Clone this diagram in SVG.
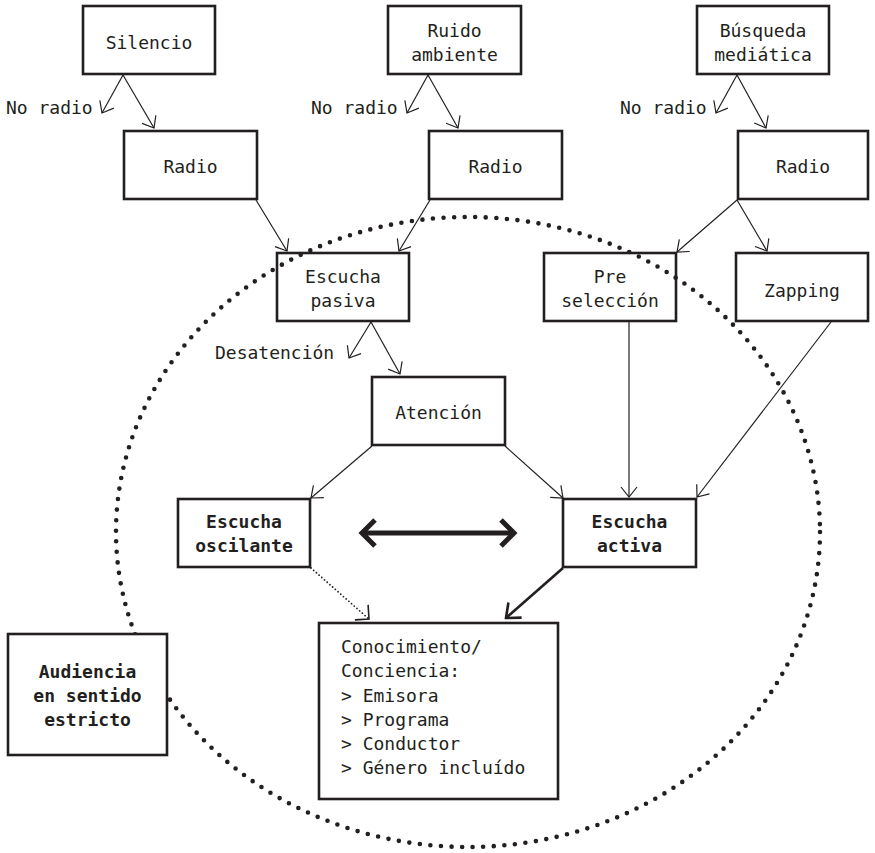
<svg xmlns="http://www.w3.org/2000/svg" width="875" height="853" viewBox="0 0 875 853">
<style>
  .box { fill: #ffffff; stroke: #231f20; stroke-width: 2.6; }
  .t { font-family: "DejaVu Sans Mono", "Liberation Mono", monospace; font-size: 18px; fill: #231f20; }
  .c { text-anchor: middle; }
  .b { font-weight: bold; }
  .ln { fill: none; stroke: #231f20; stroke-width: 1.2; }
  .thick { fill: none; stroke: #231f20; stroke-width: 2.6; }
  .dots { fill: none; stroke: #231f20; stroke-width: 1.8; stroke-linecap: round; stroke-dasharray: 0 3.6; }
  .ring { fill: none; stroke: #231f20; stroke-width: 4.6; stroke-linecap: round; stroke-dasharray: 0 10.6; }
</style>
<defs>
  <marker id="open" markerUnits="userSpaceOnUse" markerWidth="30" markerHeight="30" viewBox="-15 -15 30 30" refX="0" refY="0" orient="auto" overflow="visible">
    <path d="M-10,-8 L0,0 L-10,8" fill="none" stroke="#231f20" stroke-width="1.2"/>
  </marker>
  <marker id="wide" markerUnits="userSpaceOnUse" markerWidth="30" markerHeight="30" viewBox="-15 -15 30 30" refX="0" refY="0" orient="auto" overflow="visible">
    <path d="M-10,-10 L0,0 L-10,10" fill="none" stroke="#231f20" stroke-width="1.6"/>
  </marker>
  <marker id="heavy" markerUnits="userSpaceOnUse" markerWidth="40" markerHeight="40" viewBox="-20 -20 40 40" refX="0" refY="0" orient="auto" overflow="visible">
    <path d="M-12,-10 L0,0 L-12,10" fill="none" stroke="#231f20" stroke-width="2.6"/>
  </marker>
  <marker id="chev" markerUnits="userSpaceOnUse" markerWidth="50" markerHeight="50" viewBox="-25 -25 50 50" refX="0" refY="0" orient="auto-start-reverse" overflow="visible">
    <path d="M-13,-13 L0,0 L-13,13" fill="none" stroke="#231f20" stroke-width="5"/>
  </marker>
</defs>

<rect width="875" height="853" fill="#ffffff"/>

<g id="n-silencio"><rect class="box" x="83" y="6" width="132" height="68"/><text class="t c" x="149" y="49">Silencio</text></g>
<g id="n-radio1"><rect class="box" x="124" y="131" width="133" height="68"/><text class="t c" x="190.5" y="173">Radio</text></g>
<g id="n-ruido"><rect class="box" x="388" y="6" width="133" height="68"/><text class="t c" x="454.5" y="37">Ruido</text><text class="t c" x="454.5" y="61">ambiente</text></g>
<g id="n-radio2"><rect class="box" x="429" y="131" width="133" height="68"/><text class="t c" x="495.5" y="173">Radio</text></g>
<g id="n-busqueda"><rect class="box" x="697" y="6" width="132" height="68"/><text class="t c" x="763" y="37">Búsqueda</text><text class="t c" x="763" y="61">mediática</text></g>
<g id="n-radio3"><rect class="box" x="738" y="131" width="130" height="68"/><text class="t c" x="803" y="173">Radio</text></g>
<g id="n-pasiva"><rect class="box" x="277" y="253" width="132" height="68"/><text class="t c" x="343" y="283">Escucha</text><text class="t c" x="343" y="307">pasiva</text></g>
<g id="n-preseleccion"><rect class="box" x="544" y="253" width="132" height="68"/><text class="t c" x="610" y="283">Pre</text><text class="t c" x="610" y="307">selección</text></g>
<g id="n-zapping"><rect class="box" x="736" y="253" width="132" height="68"/><text class="t c" x="802" y="297">Zapping</text></g>
<g id="n-atencion"><rect class="box" x="372" y="377" width="133" height="68"/><text class="t c" x="438.5" y="419">Atención</text></g>
<g id="n-oscilante"><rect class="box" x="178" y="499" width="132" height="68"/><text class="t c b" x="244" y="528">Escucha</text><text class="t c b" x="244" y="552">oscilante</text></g>
<g id="n-activa"><rect class="box" x="563" y="499" width="133" height="68"/><text class="t c b" x="629.5" y="528">Escucha</text><text class="t c b" x="629.5" y="552">activa</text></g>
<g id="n-conocimiento"><rect class="box" x="319" y="623" width="239" height="176"/>
  <text class="t" x="341" y="653">Conocimiento/</text>
  <text class="t" x="341" y="677">Conciencia:</text>
  <text class="t" x="341" y="702">&gt; Emisora</text>
  <text class="t" x="341" y="726">&gt; Programa</text>
  <text class="t" x="341" y="750">&gt; Conductor</text>
  <text class="t" x="341" y="774">&gt; Género incluído</text>
</g>

<g id="labels">
  <text class="t" x="6" y="114">No radio</text>
  <text class="t" x="311" y="114">No radio</text>
  <text class="t" x="620" y="114">No radio</text>
  <text class="t" x="215" y="359">Desatención</text>
</g>

<g id="connectors">
  <line class="ln" x1="123" y1="75" x2="102" y2="113" marker-end="url(#open)"/>
  <line class="ln" x1="123" y1="75" x2="154" y2="128" marker-end="url(#open)"/>
  <line class="ln" x1="428" y1="75" x2="407" y2="113" marker-end="url(#open)"/>
  <line class="ln" x1="428" y1="75" x2="458" y2="128" marker-end="url(#open)"/>
  <line class="ln" x1="737" y1="75" x2="716" y2="113" marker-end="url(#open)"/>
  <line class="ln" x1="737" y1="75" x2="766" y2="128" marker-end="url(#open)"/>
  <line class="ln" x1="256" y1="200" x2="287" y2="251" marker-end="url(#open)"/>
  <line class="ln" x1="430" y1="200" x2="399" y2="251" marker-end="url(#open)"/>
  <line class="ln" x1="371" y1="322" x2="349" y2="358" marker-end="url(#open)"/>
  <line class="ln" x1="371" y1="322" x2="400" y2="374" marker-end="url(#open)"/>
  <line class="ln" x1="737" y1="200" x2="677" y2="252" marker-end="url(#open)"/>
  <line class="ln" x1="737" y1="200" x2="767" y2="251" marker-end="url(#open)"/>
  <line class="ln" x1="629" y1="322" x2="629" y2="497" marker-end="url(#open)"/>
  <line class="ln" x1="831" y1="322" x2="697" y2="497" marker-end="url(#open)"/>
  <line class="ln" x1="505" y1="446" x2="563" y2="498" marker-end="url(#open)"/>
  <line class="ln" x1="372" y1="446" x2="311" y2="498" marker-end="url(#open)"/>
  <line class="dots" x1="311" y1="568" x2="369" y2="619" marker-end="url(#wide)"/>
  <line class="thick" x1="563" y1="568" x2="506" y2="618" marker-end="url(#heavy)"/>
  <line class="thick" x1="362" y1="533" x2="514" y2="533" style="stroke-width:5" marker-start="url(#chev)" marker-end="url(#chev)"/>
</g>

<ellipse id="audiencia-ring" class="ring" cx="468" cy="532" rx="352" ry="315"/>

<g id="n-audiencia"><rect class="box" x="8" y="634" width="159" height="121"/>
  <text class="t c b" x="87.5" y="678">Audiencia</text>
  <text class="t c b" x="87.5" y="702">en sentido</text>
  <text class="t c b" x="87.5" y="726">estricto</text>
</g>
</svg>
